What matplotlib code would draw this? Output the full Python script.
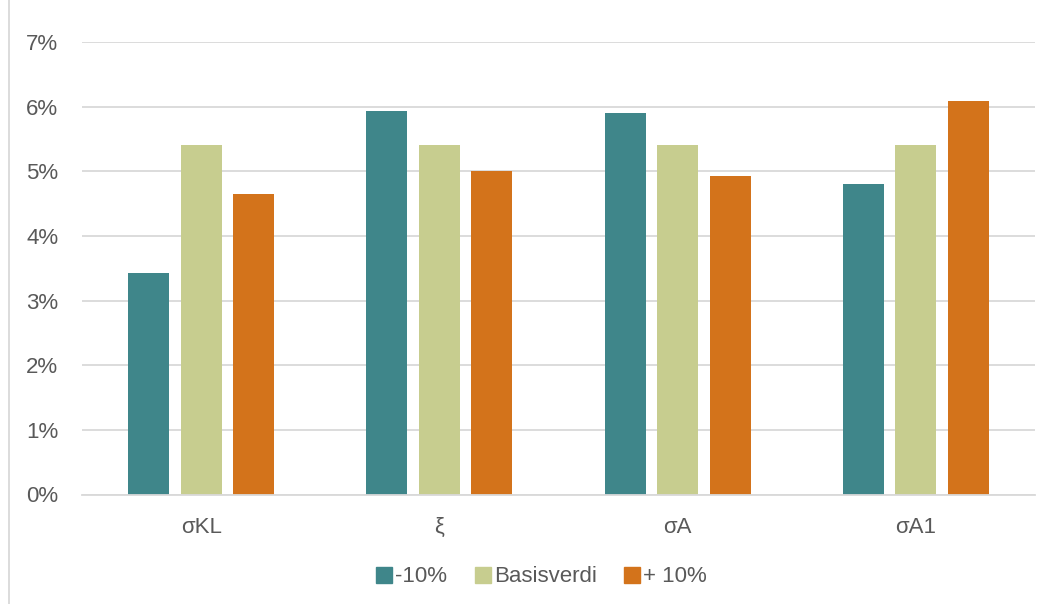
import matplotlib
matplotlib.use("Agg")
import matplotlib.pyplot as plt
import numpy as np
from matplotlib.lines import Line2D
from matplotlib.ticker import FuncFormatter, MultipleLocator

plt.rcParams['font.family'] = ['Liberation Sans', 'DejaVu Sans']

categories = ["σKL", "ξ", "σA", "σA1"]
series_names = ["-10%", "Basisverdi", "+ 10%"]
minus10 = [3.43, 5.94, 5.90, 4.80]
base = [5.41, 5.41, 5.41, 5.41]
plus10 = [4.65, 5.00, 4.93, 6.09]
colors = ["#3F868A", "#C7CD8F", "#D3731B"]

W, H = 1051, 604
fig = plt.figure(figsize=(W / 100, H / 100), dpi=100)
ax = fig.add_axes([82 / W, 1 - 494.5 / H, (1035 - 82) / W, (494.5 - 42) / H])

x = np.arange(len(categories))
width = 0.172
pitch = 0.22
for i, (vals, col) in enumerate(zip([minus10, base, plus10], colors)):
    ax.bar(x + (i - 1) * pitch, vals, width=width, color=col, zorder=3,
           label=series_names[i])

ax.set_xlim(-0.5, len(categories) - 0.5)
ax.set_ylim(0, 7)
ax.yaxis.set_major_locator(MultipleLocator(1))
ax.yaxis.set_major_formatter(FuncFormatter(lambda v, _: f"{v:.0f}%"))
ax.grid(axis='y', color='#D9D9D9', linewidth=1.3, zorder=0)
for s in ['top', 'right', 'left']:
    ax.spines[s].set_visible(False)
ax.spines['bottom'].set_color('#D9D9D9')
ax.spines['bottom'].set_linewidth(1.3)
ax.spines['bottom'].set_zorder(4)
ax.tick_params(axis='both', length=0, labelsize=16, colors='#595959')
ax.tick_params(axis='y', pad=17)
ax.tick_params(axis='x', pad=16)
ax.set_xticks(x)
ax.set_xticklabels(categories)

handles = [Line2D([], [], marker='s', linestyle='none', markersize=11,
                  markerfacecolor=c, markeredgecolor=c) for c in colors]
fig.legend(handles, series_names, loc='center', bbox_to_anchor=(540 / W, 1 - 577 / H),
           ncol=3, frameon=False, fontsize=16, labelcolor='#595959',
           handletextpad=0.0, columnspacing=1.1, handlelength=1.0)

# chart frame edge on the left
fig.add_artist(Line2D([9 / W, 9 / W], [0, 1], transform=fig.transFigure,
                      color='#D9D9D9', linewidth=1.3))

fig.savefig("out.png", dpi=100)
